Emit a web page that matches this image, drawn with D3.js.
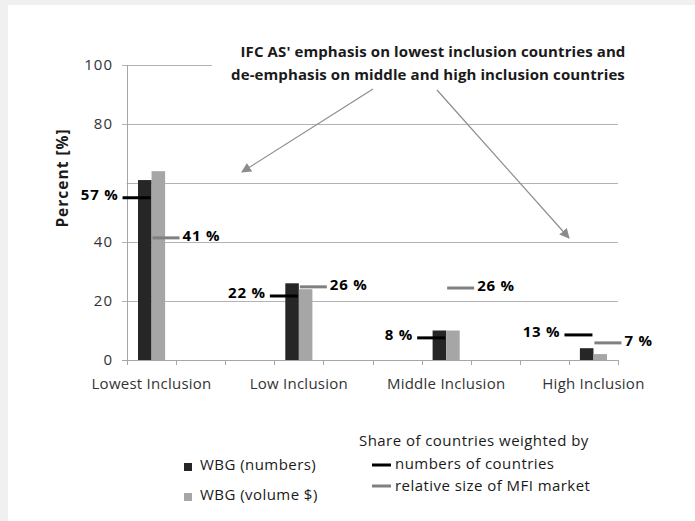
<!DOCTYPE html>
<html lang="en">
<head>
  <meta charset="utf-8">
  <script src="https://d3js.org/d3.v7.min.js"></script>
  <style>
    body { margin: 0; background: #f0f0f0; }
    svg { display: block; }
    text { font-family: "Open Sans", Lato, sans-serif; }
  </style>
</head>
<body>
<svg width="695" height="521"></svg>
<script>
  // categories (10 slots on the axis, data only in every third one)
  var categories = ["Lowest Inclusion", "", "", "Low Inclusion", "", "", "Middle Inclusion", "", "", "High Inclusion"];
  var groups = ["Lowest Inclusion", "Low Inclusion", "Middle Inclusion", "High Inclusion"];

  // bars
  var wbgNumbers = [61, 26, 10, 4];
  var wbgVolume  = [64, 24, 10, 2];

  // share of countries markers (drawn level) and their labels
  var shareNumbers      = [55, 21.7, 7.5, 8.5];
  var shareNumbersLabel = ["57 %", "22 %", "8 %", "13 %"];
  var shareMarket       = [41.4, 24.8, 24.4, 5.8];
  var shareMarketLabel  = ["41 %", "26 %", "26 %", "7 %"];

  var yTicks = [0, 20, 40, 80, 100];

  var svg = d3.select("svg");
  svg.append("rect").attr("x", 8).attr("y", 5).attr("width", 687).attr("height", 516).attr("fill", "#fff");

  var x = d3.scaleBand().domain(d3.range(categories.length)).range([127, 618]).padding(0);
  var y = d3.scaleLinear().domain([0, 100]).range([360, 65]);
  var bw = x.bandwidth();
  var inner = d3.scaleBand().domain(["numbers", "volume"]).range([11, bw - 11]);
  var slot = function(i) { return categories.indexOf(groups[i]); };
  var cx = function(i) { return x(slot(i)) + bw / 2; };

  // gridlines
  svg.append("g").selectAll("line")
    .data(d3.range(0, 101, 20))
    .enter().append("line")
      .attr("x1", 122).attr("x2", 618)
      .attr("y1", function(d) { return y(d); })
      .attr("y2", function(d) { return y(d); })
      .attr("stroke", function(d) { return d === 0 ? "#a6a6a6" : "#b3b3b3"; })
      .attr("shape-rendering", "crispEdges");

  // y axis line
  svg.append("line").attr("x1", 127).attr("x2", 127).attr("y1", y(100)).attr("y2", y(0))
    .attr("stroke", "#a6a6a6").attr("shape-rendering", "crispEdges");

  // x ticks
  svg.append("g").selectAll("line")
    .data(d3.range(categories.length + 1))
    .enter().append("line")
      .attr("x1", function(d) { return Math.round(127 + d * bw) + 0.5; })
      .attr("x2", function(d) { return Math.round(127 + d * bw) + 0.5; })
      .attr("y1", y(0)).attr("y2", y(0) + 5)
      .attr("stroke", "#a6a6a6");

  // y tick labels
  svg.append("g").selectAll("text")
    .data(yTicks)
    .enter().append("text")
      .attr("x", 113).attr("y", function(d) { return y(d) + 5; })
      .attr("text-anchor", "end").attr("font-size", 15).attr("letter-spacing", 1).attr("fill", "#333")
      .text(function(d) { return d; });

  // category labels
  svg.append("g").selectAll("text")
    .data(groups)
    .enter().append("text")
      .attr("x", function(d, i) { return cx(i); }).attr("y", 389)
      .attr("text-anchor", "middle").attr("font-size", 15).attr("letter-spacing", 0.25).attr("fill", "#333")
      .text(function(d) { return d; });

  // y title
  svg.append("text")
    .attr("transform", "translate(68,178) rotate(-90)")
    .attr("text-anchor", "middle").attr("font-size", 15.5).attr("letter-spacing", 1).attr("font-weight", "bold").attr("fill", "#1a1a1a")
    .text("Percent [%]");

  // title box covering the top gridline
  svg.append("rect").attr("x", 212).attr("y", 38).attr("width", 430).attr("height", 50).attr("fill", "#fff");
  var title = svg.append("text").attr("text-anchor", "middle").attr("font-size", 15).attr("letter-spacing", 0.1)
    .attr("font-weight", "bold").attr("fill", "#1a1a1a");
  title.append("tspan").attr("x", 433).attr("y", 57).text("IFC AS' emphasis on lowest inclusion countries and");
  title.append("tspan").attr("x", 428).attr("y", 80).text("de-emphasis on middle and high inclusion countries");

  // bars
  var bars = svg.append("g");
  bars.selectAll(".bn").data(wbgNumbers).enter().append("rect")
    .attr("x", function(d, i) { return x(slot(i)) + inner("numbers"); })
    .attr("width", inner.bandwidth())
    .attr("y", function(d) { return y(d); })
    .attr("height", function(d) { return y(0) - y(d); })
    .attr("fill", "#262626");
  bars.selectAll(".bv").data(wbgVolume).enter().append("rect")
    .attr("x", function(d, i) { return x(slot(i)) + inner("volume"); })
    .attr("width", inner.bandwidth())
    .attr("y", function(d) { return y(d); })
    .attr("height", function(d) { return y(0) - y(d); })
    .attr("fill", "#a6a6a6");

  // white box hiding the 60 label behind the 57 % label
  svg.append("rect").attr("x", 78).attr("y", 176).attr("width", 48.5).attr("height", 14).attr("fill", "#fff");

  // share markers
  var mk = svg.append("g");
  mk.selectAll(".mn").data(shareNumbers).enter().append("line")
    .attr("x1", function(d, i) { return cx(i) - 29; }).attr("x2", function(d, i) { return cx(i) - 1; })
    .attr("y1", function(d) { return y(d); }).attr("y2", function(d) { return y(d); })
    .attr("stroke", "#000").attr("stroke-width", 3);
  mk.selectAll(".mm").data(shareMarket).enter().append("line")
    .attr("x1", function(d, i) { return cx(i) + 1; }).attr("x2", function(d, i) { return cx(i) + 28; })
    .attr("y1", function(d) { return y(d); }).attr("y2", function(d) { return y(d); })
    .attr("stroke", "#808080").attr("stroke-width", 3);
  mk.selectAll(".ln").data(shareNumbers).enter().append("text")
    .attr("x", function(d, i) { return cx(i) - 33; })
    .attr("y", function(d) { return y(d) + 2; })
    .attr("text-anchor", "end").attr("font-size", 15).attr("letter-spacing", 0.8).attr("font-weight", "bold").attr("fill", "#000")
    .text(function(d, i) { return shareNumbersLabel[i]; });
  mk.selectAll(".lm").data(shareMarket).enter().append("text")
    .attr("x", function(d, i) { return cx(i) + 31; })
    .attr("y", function(d) { return y(d) + 3; })
    .attr("font-size", 15).attr("letter-spacing", 0.8).attr("font-weight", "bold").attr("fill", "#000")
    .text(function(d, i) { return shareMarketLabel[i]; });

  // green double arrow
  var ax = x(1) + 16, top = y(65.5), bot = y(46), hw = 17, sw = 9, hh = 20;
  svg.append("path")
    .attr("d", "M" + ax + "," + top + "L" + (ax + hw) + "," + (top + hh) + "L" + (ax + sw) + "," + (top + hh) +
      "L" + (ax + sw) + "," + (bot - hh) + "L" + (ax + hw) + "," + (bot - hh) + "L" + ax + "," + bot +
      "L" + (ax - hw) + "," + (bot - hh) + "L" + (ax - sw) + "," + (bot - hh) + "L" + (ax - sw) + "," + (top + hh) +
      "L" + (ax - hw) + "," + (top + hh) + "Z")
    .attr("fill", "#c3d69b");

  // annotation arrows
  var defs = svg.append("defs");
  defs.append("marker").attr("id", "ah").attr("viewBox", "0 0 10 10").attr("refX", 9).attr("refY", 5)
    .attr("markerWidth", 10).attr("markerHeight", 10).attr("markerUnits", "userSpaceOnUse").attr("orient", "auto")
    .append("path").attr("d", "M0,0L10,5L0,10Z").attr("fill", "#8c8c8c");
  svg.append("line").attr("x1", 373).attr("y1", 89).attr("x2", 242).attr("y2", 172)
    .attr("stroke", "#8c8c8c").attr("stroke-width", 1.2).attr("marker-end", "url(#ah)");
  svg.append("line").attr("x1", 437).attr("y1", 90).attr("x2", 569).attr("y2", 238)
    .attr("stroke", "#8c8c8c").attr("stroke-width", 1.2).attr("marker-end", "url(#ah)");

  // legend: bars
  var leg = svg.append("g").attr("font-size", 15).attr("letter-spacing", 0.45).attr("fill", "#1a1a1a");
  leg.append("rect").attr("x", 184).attr("y", 463).attr("width", 8).attr("height", 8).attr("fill", "#262626");
  leg.append("text").attr("x", 200).attr("y", 470).text("WBG (numbers)");
  leg.append("rect").attr("x", 184).attr("y", 493).attr("width", 8).attr("height", 8).attr("fill", "#a6a6a6");
  leg.append("text").attr("x", 200).attr("y", 500).text("WBG (volume $)");

  // legend: markers
  leg.append("text").attr("x", 359).attr("y", 446).text("Share of countries weighted by");
  leg.append("line").attr("x1", 372).attr("x2", 391).attr("y1", 465).attr("y2", 465).attr("stroke", "#000").attr("stroke-width", 3);
  leg.append("text").attr("x", 395).attr("y", 469).text("numbers of countries");
  leg.append("line").attr("x1", 372).attr("x2", 391).attr("y1", 486).attr("y2", 486).attr("stroke", "#808080").attr("stroke-width", 3);
  leg.append("text").attr("x", 395).attr("y", 491).text("relative size of MFI market");
</script>
</body>
</html>
